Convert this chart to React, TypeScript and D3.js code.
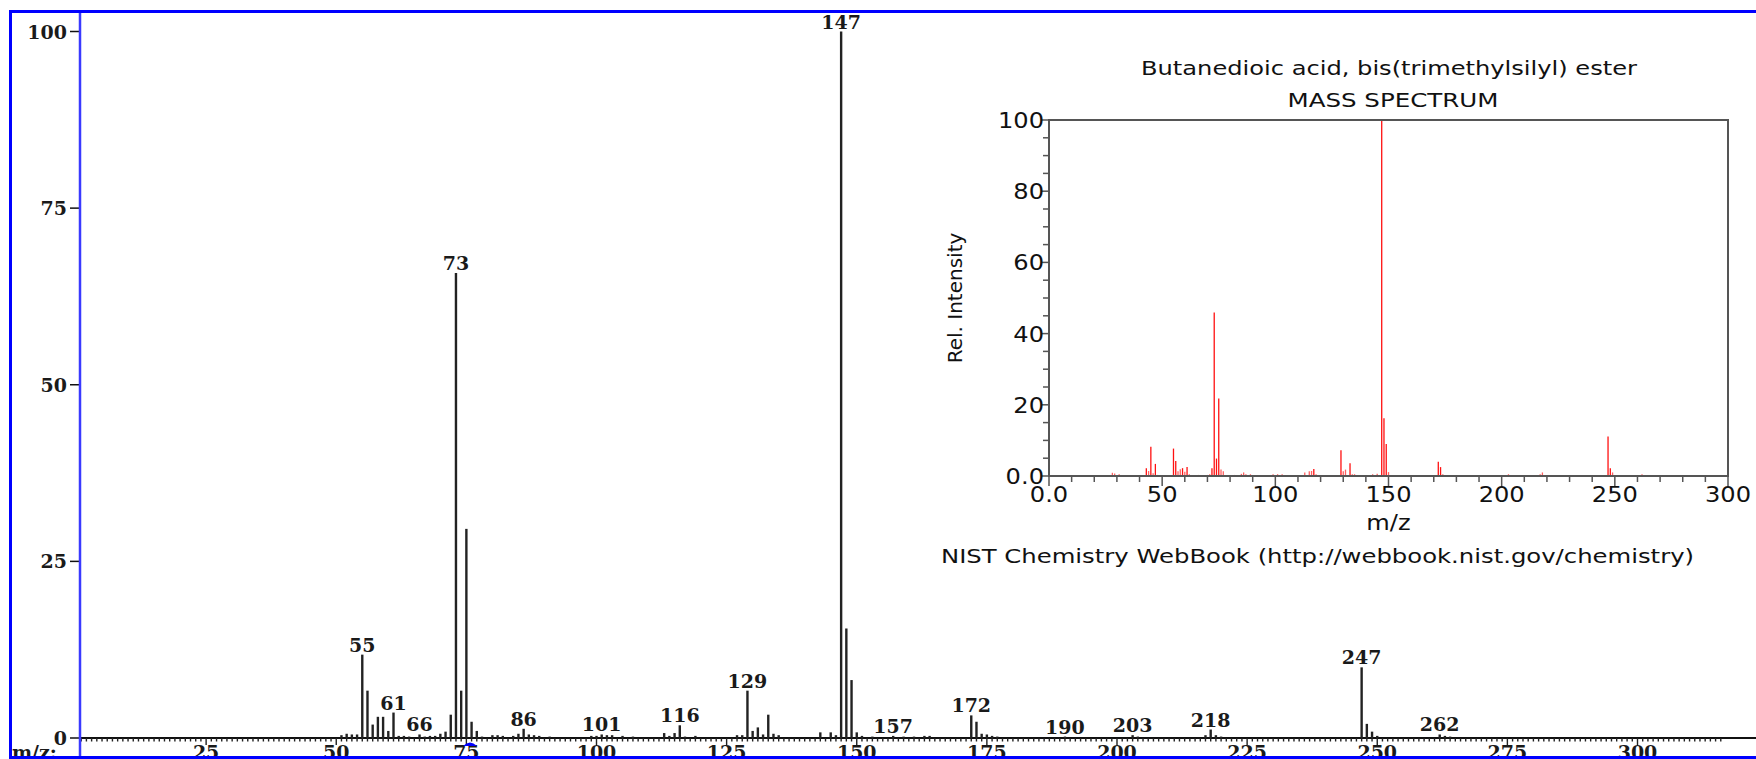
import * as React from 'react';
import * as d3 from 'd3';

// main spectrum
const mainMz = [51, 52, 53, 54, 55, 56, 57, 58, 59, 60, 61, 62, 63, 64, 66, 67, 68, 69, 70, 71, 72, 73, 74, 75, 76, 77, 78, 80, 81, 82, 84, 85, 86, 87, 88, 89, 91, 99, 100, 101, 102, 103, 105, 107, 113, 114, 115, 116, 117, 119, 127, 128, 129, 130, 131, 132, 133, 134, 135, 143, 145, 146, 147, 148, 149, 150, 151, 153, 157, 159, 161, 163, 164, 172, 173, 174, 175, 176, 177, 190, 203, 204, 217, 218, 219, 220, 247, 248, 249, 250, 262, 263, 264];
const mainInt = [0.4, 0.6, 0.5, 0.5, 11.8, 6.7, 1.9, 3.0, 3.0, 1.0, 3.6, 0.3, 0.3, 0.2, 0.5, 0.2, 0.3, 0.3, 0.6, 0.9, 3.3, 65.8, 6.7, 29.6, 2.3, 1.0, 0.2, 0.4, 0.4, 0.3, 0.3, 0.6, 1.3, 0.5, 0.4, 0.3, 0.2, 0.3, 0.3, 0.5, 0.4, 0.4, 0.3, 0.2, 0.7, 0.3, 0.7, 1.8, 0.2, 0.3, 0.4, 0.4, 6.7, 1.0, 1.5, 0.5, 3.3, 0.6, 0.4, 0.8, 0.8, 0.4, 100, 15.5, 8.2, 0.8, 0.3, 0.2, 0.3, 0.2, 0.2, 0.3, 0.3, 3.2, 2.3, 0.6, 0.5, 0.3, 0.2, 0.2, 0.4, 0.2, 0.4, 1.2, 0.4, 0.2, 10.0, 2.0, 0.9, 0.3, 0.5, 0.3, 0.2];
const mainLabels = [55, 61, 66, 73, 86, 101, 116, 129, 147, 157, 172, 190, 203, 218, 247, 262];
const mainYTicks = [0, 25, 50, 75, 100];
const mainXTicks = [25, 50, 75, 100, 125, 150, 175, 200, 225, 250, 275, 300];
const cursorMz = 75.7;

// NIST inset spectrum
const insetMz = [16, 28, 29, 30, 31, 42, 43, 44, 45, 46, 47, 48, 53, 54, 55, 56, 57, 58, 59, 60, 61, 62, 63, 66, 70, 71, 72, 73, 74, 75, 76, 77, 82, 84, 85, 86, 87, 89, 99, 101, 103, 105, 113, 115, 116, 117, 118, 129, 130, 131, 133, 134, 135, 143, 145, 147, 148, 149, 150, 157, 163, 172, 173, 174, 175, 190, 203, 217, 218, 219, 247, 248, 249, 262];
const insetInt = [0.1, 0.9, 0.7, 0.3, 0.5, 0.3, 2.2, 1.4, 8.2, 0.8, 3.4, 0.3, 0.3, 0.3, 7.7, 4.2, 1.3, 1.9, 2.2, 1.2, 2.5, 0.5, 0.2, 0.3, 0.3, 0.5, 2.2, 45.9, 4.9, 21.8, 1.8, 1.3, 0.3, 0.3, 0.6, 1.0, 0.5, 0.5, 0.5, 0.5, 0.5, 0.3, 1.0, 1.3, 1.4, 2.0, 0.5, 7.2, 1.3, 1.8, 3.6, 0.5, 0.5, 0.5, 0.6, 100, 16.2, 9.0, 1.1, 0.3, 0.3, 4.0, 2.5, 0.5, 0.3, 0.2, 0.5, 0.5, 1.0, 0.3, 11.1, 2.2, 1.0, 0.5];
const insetYTicks = [0, 20, 40, 60, 80, 100];
const insetYLabels = ['0.0', '20', '40', '60', '80', '100'];
const insetXTicks = [0, 50, 100, 150, 200, 250, 300];
const insetXLabels = ['0.0', '50', '100', '150', '200', '250', '300'];

const W = 1756;
const H = 759;
const BLUE = '#0000ff';
const serif = '"DejaVu Serif", serif';
const sans = '"DejaVu Sans", sans-serif';

export default function App() {
    const x = d3.scaleLinear().domain([0, 330]).range([76, 76 + 5.205 * 330]);
    const y = d3.scaleLinear().domain([0, 100]).range([738, 31.5]);

    const ix = d3.scaleLinear().domain([0, 300]).range([1049, 1728]);
    const iy = d3.scaleLinear().domain([0, 100]).range([476, 120]);

    const minorX = d3.range(1, 317);
    const insetMinorY = d3.range(0, 101, 5);
    const insetMinorX = d3.range(0, 301, 10);
    const peakOf = (m: number) => mainInt[mainMz.indexOf(m)] ?? 0;
    const sx = 1.15;

    return (
        <svg width={W} height={H} style={{ position: 'absolute', left: 0, top: 0, display: 'block', background: '#fff' }}>
            {/* main x axis line + ticks */}
            <line x1={80} x2={W} y1={y(0)} y2={y(0)} stroke="#111" strokeWidth={2} />
            {minorX.map(m => (
                <line key={'t' + m} x1={x(m)} x2={x(m)} y1={y(0)} y2={y(0) + (m % 25 === 0 ? 7 : 3.5)} stroke="#222" strokeWidth={1.4} />
            ))}

            {/* main bars */}
            {mainMz.map((m, i) => (
                <line key={'b' + m} x1={x(m)} x2={x(m)} y1={y(0)} y2={y(mainInt[i])} stroke="#222" strokeWidth={2.4} />
            ))}

            {/* peak labels */}
            {mainLabels.map(m => (
                <text key={'l' + m} x={x(m)} y={y(peakOf(m)) - 3} textAnchor="middle" fontFamily={serif} fontWeight="bold" fontSize={19} fill="#1a1a1a">{m}</text>
            ))}

            {/* y axis */}
            {mainYTicks.map(v => (
                <g key={'y' + v}>
                    <line x1={70} x2={80} y1={y(v)} y2={y(v)} stroke="#111" strokeWidth={1.5} />
                    <text x={67} y={y(v) + 7} textAnchor="end" fontFamily={serif} fontWeight="bold" fontSize={19} fill="#1a1a1a">{v}</text>
                </g>
            ))}

            {/* x tick labels, cut off by the frame */}
            {mainXTicks.map(v => (
                <text key={'x' + v} x={x(v)} y={759} textAnchor="middle" fontFamily={serif} fontWeight="bold" fontSize={19} fill="#1a1a1a">{v}</text>
            ))}
            <text x={12} y={759} fontFamily={serif} fontWeight="bold" fontSize={19} fill="#1a1a1a">m/z:</text>

            {/* cursor marker */}
            <path d={`M${x(cursorMz) - 7},${y(0) + 8} Q${x(cursorMz)},${y(0) + 1} ${x(cursorMz) + 7},${y(0) + 8} Z`} fill={BLUE} />

            {/* frame */}
            <line x1={80} x2={80} y1={12} y2={757} stroke="#3a3aff" strokeWidth={2.5} />
            <line x1={9} x2={W} y1={11.5} y2={11.5} stroke={BLUE} strokeWidth={3} />
            <line x1={10.5} x2={10.5} y1={10} y2={H} stroke={BLUE} strokeWidth={3} />
            <line x1={9} x2={W} y1={757.5} y2={757.5} stroke={BLUE} strokeWidth={3} />

            {/* inset NIST spectrum */}
            <g>
                <text x={1389} y={75} textAnchor="middle" fontFamily={sans} fontSize={20} textLength={496} lengthAdjust="spacingAndGlyphs" fill="#111">Butanedioic acid, bis(trimethylsilyl) ester</text>
                <text x={1393} y={107} textAnchor="middle" fontFamily={sans} fontSize={20} textLength={211} lengthAdjust="spacingAndGlyphs" fill="#111">MASS SPECTRUM</text>

                {insetMinorY.map(v => (
                    <line key={'iy' + v} x1={ix(0) - (v % 20 === 0 ? 8 : 6)} x2={ix(0)} y1={iy(v)} y2={iy(v)} stroke="#555" strokeWidth={1.5} />
                ))}
                {insetMinorX.map(v => (
                    <line key={'ix' + v} x1={ix(v)} x2={ix(v)} y1={iy(0)} y2={iy(0) + (v % 50 === 0 ? 10 : 6)} stroke="#555" strokeWidth={1.5} />
                ))}

                {insetMz.map((m, i) => (
                    <line key={'ib' + m} x1={ix(m)} x2={ix(m)} y1={iy(0)} y2={iy(insetInt[i])} stroke={insetInt[i] < 2 ? '#ff6060' : '#ff1010'} strokeWidth={1.3} />
                ))}

                <rect x={ix(0)} y={iy(100)} width={ix(300) - ix(0)} height={iy(0) - iy(100)} fill="none" stroke="#555" strokeWidth={2} />

                {insetYTicks.map((v, i) => (
                    <text key={'iyl' + v} transform={`translate(${ix(0) - 5},${iy(v) + 8}) scale(${sx},1)`} textAnchor="end" fontFamily={sans} fontSize={21} fill="#111">{insetYLabels[i]}</text>
                ))}
                {insetXTicks.map((v, i) => (
                    <text key={'ixl' + v} transform={`translate(${ix(v)},${iy(0) + 26}) scale(${sx},1)`} textAnchor="middle" fontFamily={sans} fontSize={21} fill="#111">{insetXLabels[i]}</text>
                ))}
                <text transform={`translate(${(ix(0) + ix(300)) / 2},${iy(0) + 54}) scale(${sx},1)`} textAnchor="middle" fontFamily={sans} fontSize={21} fill="#111">m/z</text>
                <text transform={`translate(962,${(iy(0) + iy(100)) / 2}) rotate(-90)`} textAnchor="middle" fontFamily={sans} fontSize={20} fill="#111">Rel. Intensity</text>
                <text x={941} y={563} fontFamily={sans} fontSize={20} textLength={753} lengthAdjust="spacingAndGlyphs" fill="#111">NIST Chemistry WebBook (http://webbook.nist.gov/chemistry)</text>
            </g>
        </svg>
    );
}
